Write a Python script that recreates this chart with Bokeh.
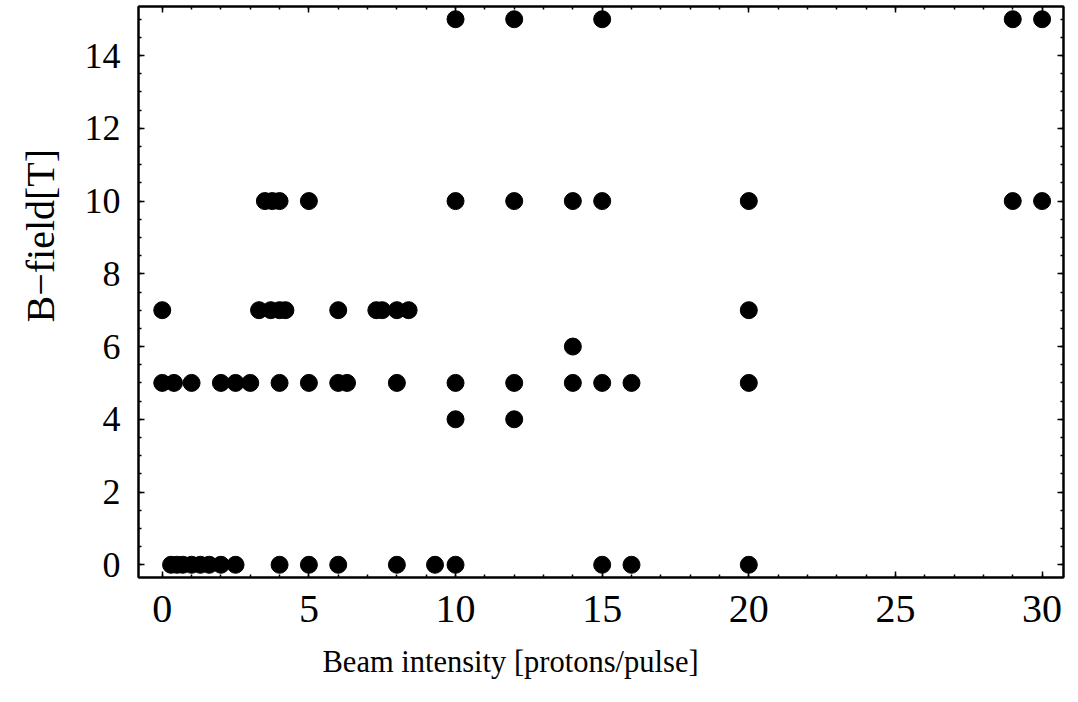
import math
from bokeh.plotting import figure
from bokeh.models import (LinearAxis, SingleIntervalTicker, Range1d, ColumnDataSource,
                          Title, CustomJSTickFormatter)
from bokeh.embed import file_html
from bokeh.resources import INLINE

# Beam intensity values for each B-field level
field_levels = [15, 10, 7, 6, 5, 4, 0]
intensity_at_15T = [10, 12, 15, 29, 30]
intensity_at_10T = [3.5, 3.75, 4.0, 5, 10, 12, 14, 15, 20, 29, 30]
intensity_at_7T = [0, 3.3, 3.7, 4.0, 4.2, 6, 7.3, 7.5, 8.0, 8.4, 20]
intensity_at_6T = [14]
intensity_at_5T = [0, 0.4, 1.0, 2.0, 2.5, 3.0, 4, 5, 6, 6.3, 8, 10, 12, 14, 15, 16, 20]
intensity_at_4T = [10, 12]
intensity_at_0T = [0.3, 0.5, 0.7, 1.0, 1.3, 1.6, 2.0, 2.5, 4, 5, 6, 8, 9.3, 10, 15, 16, 20]

x_label = "Beam intensity [protons/pulse]"
y_label = "B\u2212field[T]"

groups = [intensity_at_15T, intensity_at_10T, intensity_at_7T, intensity_at_6T,
          intensity_at_5T, intensity_at_4T, intensity_at_0T]
xs, ys = [], []
for level, vals in zip(field_levels, groups):
    xs.extend(vals)
    ys.extend([level] * len(vals))
src = ColumnDataSource(dict(x=xs, y=ys))

FONT = "Liberation Serif"

p = figure(frame_width=925, frame_height=571,
           x_range=Range1d(-0.81, 30.73), y_range=Range1d(-0.35, 15.35),
           output_backend="svg", toolbar_location=None,
           min_border_left=138, min_border_right=7, min_border_top=6, min_border_bottom=120,
           x_axis_location=None, y_axis_location=None)
p.xgrid.visible = False
p.ygrid.visible = False
p.outline_line_color = "black"
p.outline_line_width = 2
p.background_fill_color = "white"
p.border_fill_color = "white"

def style(ax, show_labels, size):
    ax.axis_line_color = "black"
    ax.axis_line_width = 2
    ax.major_tick_in = 6
    ax.major_tick_out = 0
    ax.minor_tick_in = 3
    ax.minor_tick_out = 0
    ax.major_tick_line_width = 1.5
    ax.minor_tick_line_width = 1.5
    ax.major_label_text_font = FONT
    if show_labels:
        ax.major_label_text_font_size = size
        ax.major_label_text_color = "black"
    else:
        ax.formatter = CustomJSTickFormatter(code="return '';")
        ax.major_label_standoff = 0

xb = LinearAxis(ticker=SingleIntervalTicker(interval=5, num_minor_ticks=5))
style(xb, True, "40px")
xb.major_label_standoff = 18
xt = LinearAxis(ticker=SingleIntervalTicker(interval=5, num_minor_ticks=5))
style(xt, False, None)
yl = LinearAxis(ticker=SingleIntervalTicker(interval=2, num_minor_ticks=4))
style(yl, True, "36px")
yl.major_label_standoff = 18
yr = LinearAxis(ticker=SingleIntervalTicker(interval=2, num_minor_ticks=4))
style(yr, False, None)
p.add_layout(xb, "below")
p.add_layout(xt, "above")
p.add_layout(yl, "left")
p.add_layout(yr, "right")

p.scatter("x", "y", source=src, size=17, fill_color="black", line_color="black")

p.add_layout(Title(text=x_label, align="left", offset=184, standoff=36,
                   text_font=FONT, text_font_size="30.5px", text_font_style="normal",
                   text_color="black"), "below")
p.add_layout(Title(text=y_label, align="left", offset=255, standoff=33,
                   vertical_align="top",
                   text_font=FONT, text_font_size="40px", text_font_style="normal",
                   text_color="black"), "left")

open("out.html", "w").write(file_html(p, INLINE))
